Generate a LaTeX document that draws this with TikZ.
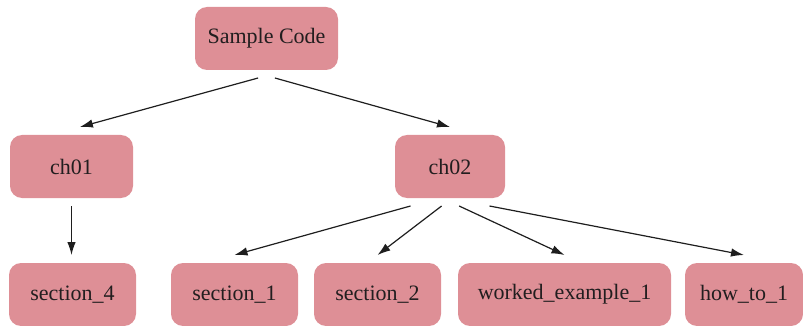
\documentclass[tikz,border=0pt]{standalone}
\usepackage{fontspec}
\setmainfont{Liberation Serif}
\usepackage{xcolor}
\usetikzlibrary{arrows.meta}

\definecolor{dirpink}{RGB}{222,143,150}
\definecolor{dirtext}{RGB}{34,30,31}
\definecolor{linkgray}{RGB}{30,30,30}

\begin{document}
\begin{tikzpicture}[
    x=1pt, y=-1pt,
    dir/.style={
      draw=none, fill=dirpink, rounded corners=12pt,
      minimum height=63pt, outer sep=8pt,
      text=dirtext, font=\fontsize{22}{26}\selectfont
    },
    link/.style={draw=linkgray, line width=1.2pt, -{Latex[length=13pt,width=8.5pt]}}
]
  \useasboundingbox (0,0) rectangle (803,326);

  % Define the folders
  \node[dir, minimum width=143pt] (root) at (266.5,38.5) {Sample Code};
  \node[dir, minimum width=123pt] (ch01) at (71.5,166.5) {ch01};
  \node[dir, minimum width=110pt] (ch02) at (450,166.5) {ch02};
  \node[dir, minimum width=127pt] (sec4) at (72.5,294.5) {section\_4};
  \node[dir, minimum width=127pt] (sec1) at (234.5,294.5) {section\_1};
  \node[dir, minimum width=127pt] (sec2) at (377.5,294.5) {section\_2};
  \node[dir, minimum width=213pt] (worked) at (564.5,294.5) {worked\_example\_1};
  \node[dir, minimum width=118pt] (howto) at (744,294.5) {how\_to\_1};

  % Connections from the root
  \draw[link] (root.258) -- (ch01.78);
  \draw[link] (root.282) -- (ch02.north);

  % Connections from ch01
  \draw[link] (ch01.south) -- (ch01.south |- sec4.north);

  % Connections from ch02
  \foreach \a/\t in {225/sec1, 258/sec2, 283/worked, 315/howto}
  \draw[link] (ch02.\a) -- (\t.north);

\end{tikzpicture}
\end{document}
